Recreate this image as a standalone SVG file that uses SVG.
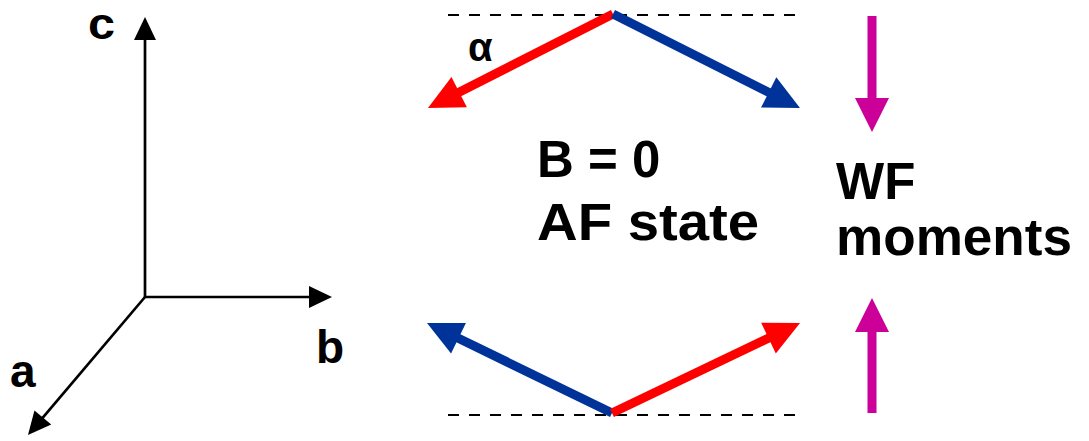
<svg xmlns="http://www.w3.org/2000/svg" width="1089" height="441" viewBox="0 0 1089 441">
<style>
text{font-family:"Liberation Sans",Arial,sans-serif;font-weight:bold;fill:#000}
.big{font-size:51px}
.ax{font-size:46px}
.axis{stroke:#000;stroke-width:2.7;fill:none}
.dash{stroke:#000;stroke-width:2;stroke-dasharray:11,10;fill:none}
.thick{stroke-width:9;fill:none;stroke-linecap:butt}
</style>
<defs>
<marker id="hk" markerUnits="userSpaceOnUse" markerWidth="23" markerHeight="22" refX="3" refY="11" orient="auto" overflow="visible"><path d="M0,0 L23,11 L0,22 z" fill="#000"/></marker>
<marker id="hr" markerUnits="userSpaceOnUse" markerWidth="35" markerHeight="34" refX="15" refY="17" orient="auto" overflow="visible"><path d="M0,0 L35,17 L0,34 z" fill="#FF0000"/></marker>
<marker id="hb" markerUnits="userSpaceOnUse" markerWidth="35" markerHeight="34" refX="15" refY="17" orient="auto" overflow="visible"><path d="M0,0 L35,17 L0,34 z" fill="#003399"/></marker>
<marker id="hm" markerUnits="userSpaceOnUse" markerWidth="34" markerHeight="34" refX="14" refY="17" orient="auto" overflow="visible"><path d="M0,0 L34,17 L0,34 z" fill="#CC0099"/></marker>
</defs>
<g id="axes">
<line class="axis" x1="145" y1="298" x2="145" y2="37" marker-end="url(#hk)"/>
<line class="axis" x1="144" y1="297" x2="312" y2="297" marker-end="url(#hk)"/>
<line class="axis" x1="145" y1="297" x2="40.9" y2="419.8" marker-end="url(#hk)"/>
<text x="88" y="39" style="font-size:44px" textLength="27" lengthAdjust="spacingAndGlyphs">c</text>
<text class="ax" x="316" y="363">b</text>
<text class="ax" x="10" y="387">a</text>
</g>
<g id="connectors">
<line class="dash" x1="448" y1="15" x2="805" y2="15"/>
<line class="dash" x1="448" y1="415" x2="805" y2="415"/>
<line class="thick" stroke="#FF0000" x1="613" y1="14" x2="445.8" y2="99" marker-end="url(#hr)"/>
<line class="thick" stroke="#003399" x1="613" y1="14" x2="782.1" y2="99.1" marker-end="url(#hb)"/>
<line class="thick" stroke="#003399" x1="612" y1="413" x2="445" y2="331.75" marker-end="url(#hb)"/>
<line class="thick" stroke="#FF0000" x1="612" y1="413" x2="782" y2="331.6" marker-end="url(#hr)"/>
<line class="thick" stroke="#CC0099" x1="872" y1="16" x2="872" y2="112" marker-end="url(#hm)"/>
<line class="thick" stroke="#CC0099" x1="872" y1="413" x2="872" y2="318" marker-end="url(#hm)"/>
</g>
<g id="alpha"><text x="468" y="61" style="font-size:40px">α</text></g>
<g id="state">
<text class="big" x="537" y="177">B = 0</text>
<text class="big" x="537" y="240" textLength="222" lengthAdjust="spacingAndGlyphs">AF state</text>
</g>
<g id="wf">
<text class="big" x="836" y="199">WF</text>
<text class="big" x="836" y="255" textLength="236" lengthAdjust="spacingAndGlyphs">moments</text>
</g>
</svg>
